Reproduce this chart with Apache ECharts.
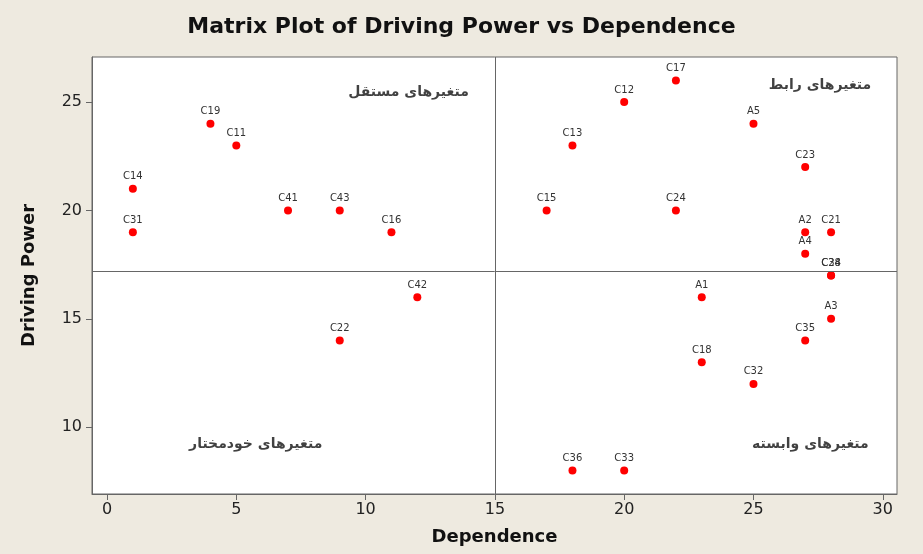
<!DOCTYPE html>
<html>
<head>
<meta charset="utf-8">
<script src="https://cdn.jsdelivr.net/npm/echarts@6/dist/echarts.min.js"></script>
<style>
html,body{margin:0;padding:0;background:#eeeae0;}
#main{width:923px;height:554px;}
</style>
</head>
<body>
<div id="main"></div>
<script>
// variable names, dependence (x) and driving power (y)
var names = ['C14','C31','C19','C11','C41','C43','C16',
             'C17','C12','C13','A5','C23','C15','C24','A2','C21','A4','C28','C34',
             'C42','C22',
             'A1','A3','C35','C18','C32','C36','C33'];
var dependence = [1,1,4,5,7,9,11,
                  22,20,18,25,27,17,22,27,28,27,28,28,
                  12,9,
                  23,28,27,23,25,18,20];
var drivingPower = [21,19,24,23,20,20,19,
                    26,25,23,24,22,20,20,19,19,18,17,17,
                    16,14,
                    16,15,14,13,12,8,8];

var xTicks = [0,5,10,15,20,25,30];
var yTicks = [10,15,20,25];

// quadrant captions
var quadNames = ['متغیرهای مستقل','متغیرهای رابط','متغیرهای خودمختار','متغیرهای وابسته'];
var quadX = [11.66,27.57,5.75,27.2];
var quadY = [25.45,25.77,9.23,9.23];

var xSplit = 15, ySplit = 17.2;

var pts = [];
for (var i = 0; i < names.length; i++) {
    pts.push({value:[dependence[i], drivingPower[i]], name:names[i]});
}
var quads = [];
for (var j = 0; j < quadNames.length; j++) {
    quads.push({value:[quadX[j], quadY[j]], name:quadNames[j]});
}

var tickFont = {fontFamily:'DejaVu Sans', fontSize:16, color:'#222'};

var myChart = echarts.init(document.getElementById('main'));
var option = {
    backgroundColor:'#eeeae0',
    animation:false,
    title:{
        text:'Matrix Plot of Driving Power vs Dependence',
        left:'center',
        top:11,
        textStyle:{fontFamily:'DejaVu Sans', fontWeight:'bold', fontSize:22, color:'#111'}
    },
    grid:{
        left:92, right:26, top:57, bottom:60,
        show:true, backgroundColor:'#fff', borderColor:'#666', borderWidth:1
    },
    xAxis:{
        type:'value', min:-0.58, max:30.55,
        name:'Dependence', nameLocation:'middle', nameGap:34,
        nameTextStyle:{fontFamily:'DejaVu Sans', fontWeight:'bold', fontSize:18, color:'#111'},
        splitLine:{show:false},
        axisLine:{show:true, onZero:false, lineStyle:{color:'#666'}},
        axisTick:{show:true, customValues:xTicks, length:6, lineStyle:{color:'#666'}},
        axisLabel:Object.assign({customValues:xTicks, margin:8}, tickFont)
    },
    yAxis:{
        type:'value', min:6.92, max:27.08,
        name:'Driving Power', nameLocation:'middle', nameGap:54,
        nameTextStyle:{fontFamily:'DejaVu Sans', fontWeight:'bold', fontSize:18, color:'#111'},
        splitLine:{show:false},
        axisLine:{show:true, onZero:false, lineStyle:{color:'#666'}},
        axisTick:{show:true, customValues:yTicks, length:6, lineStyle:{color:'#666'}},
        axisLabel:Object.assign({customValues:yTicks, margin:10}, tickFont)
    },
    series:[
        {
            type:'scatter',
            data:pts,
            symbolSize:8,
            itemStyle:{color:'#ff0000', opacity:1},
            label:{
                show:true, position:'top', distance:3,
                formatter:'{b}',
                fontFamily:'DejaVu Sans', fontSize:10, color:'#333'
            },
            markLine:{
                silent:true, symbol:'none',
                label:{show:false},
                lineStyle:{color:'#666', type:'solid', width:1},
                data:[{xAxis:xSplit},{yAxis:ySplit}]
            },
            z:3
        },
        {
            type:'scatter',
            data:quads,
            symbolSize:0,
            silent:true,
            label:{
                show:true, position:'inside',
                formatter:'{b}',
                fontFamily:'DejaVu Sans', fontWeight:'bold', fontSize:14, color:'#111'
            }
        }
    ]
};
myChart.setOption(option);
</script>
</body>
</html>
